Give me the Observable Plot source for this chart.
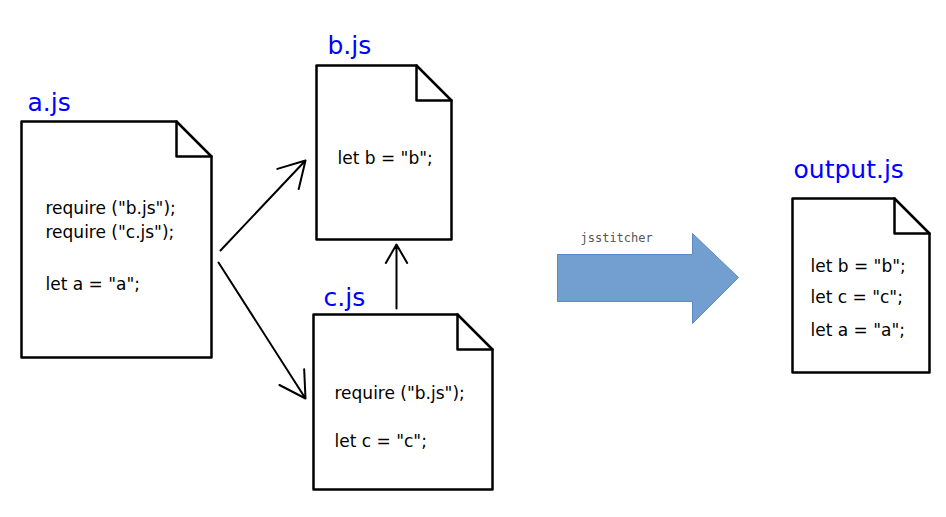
<!DOCTYPE html>
<html><head>
<script src="https://cdn.jsdelivr.net/npm/d3@7"></script>
<script src="https://cdn.jsdelivr.net/npm/@observablehq/plot@0.6"></script>
<style>body{margin:0;background:#fff}</style>
</head><body>
<div id="chart"></div>
<script>
// documents: name, left, top, right, bottom, fold size
const docNames = ["a.js", "b.js", "c.js", "output.js"];
const docBoxes = [[21,121,211,357],[316,65,451,239],[313,314,492,489],[792,198,929,372]];
const foldSize = 35;
const titleAnchors = [[27,110],[327,53],[323,305],[793,177]];
const codeLines = [
  {t:'require ("b.js");', x:45, y:208},
  {t:'require ("c.js");', x:45, y:232},
  {t:'let a = "a";', x:45, y:284},
  {t:'let b = "b";', x:337, y:158},
  {t:'require ("b.js");', x:334, y:393},
  {t:'let c = "c";', x:334, y:441},
  {t:'let b = "b";', x:810, y:266},
  {t:'let c = "c";', x:810, y:297},
  {t:'let a = "a";', x:810, y:330}
];
const depArrows = [[220,250,305,160],[218,262,305,398],[396,308,396,244]];
const bigArrow = [[557,254],[692,254],[692,233],[738,277],[692,323],[692,301],[557,301],[557,254]];
const arrowLabel = "jsstitcher";

const outline = [], folds = [];
docBoxes.forEach(([x0,y0,x1,y1],i)=>{
  const f = foldSize;
  [[x0,y0],[x1-f,y0],[x1,y0+f],[x1,y1],[x0,y1],[x0,y0]].forEach(([x,y])=>outline.push({id:i,x,y}));
  [[x1-f,y0],[x1-f,y0+f],[x1,y0+f]].forEach(([x,y])=>folds.push({id:i,x,y}));
});
const titles = docNames.map((n,i)=>({t:n,x:titleAnchors[i][0],y:titleAnchors[i][1]}));
const arrows = depArrows.map(([x1,y1,x2,y2])=>({x1,y1,x2,y2}));
const big = bigArrow.map(([x,y])=>({x,y}));

const chart = Plot.plot({
  width:946, height:517, margin:0,
  x:{domain:[0,946], axis:null},
  y:{domain:[0,517], axis:null, reverse:false, range:[0,517]},
  style:{background:"#fff"},
  marks:[
    Plot.line(big,{x:"x",y:"y",fill:"#729fcf",stroke:"#5b8bc4",strokeWidth:1}),
    Plot.text([{t:arrowLabel,x:580,y:238}],{x:"x",y:"y",text:"t",textAnchor:"start",fontFamily:"DejaVu Sans Mono",fontSize:12,fill:"#555"}),
    Plot.line(outline,{x:"x",y:"y",z:"id",stroke:"#000",strokeWidth:2.5,fill:"#fff"}),
    Plot.line(folds,{x:"x",y:"y",z:"id",stroke:"#000",strokeWidth:2.5}),
    Plot.arrow(arrows,{x1:"x1",y1:"y1",x2:"x2",y2:"y2",stroke:"#000",strokeWidth:2,headLength:22,bend:0}),
    Plot.text(titles,{x:"x",y:"y",text:"t",textAnchor:"start",lineAnchor:"bottom",fontFamily:"DejaVu Sans",fontSize:25,fill:"#0000ff"}),
    Plot.text(codeLines,{x:"x",y:"y",text:"t",textAnchor:"start",lineAnchor:"middle",fontFamily:"DejaVu Sans",fontSize:17,fill:"#000"})
  ]
});
document.getElementById("chart").appendChild(chart);
</script>
</body></html>
